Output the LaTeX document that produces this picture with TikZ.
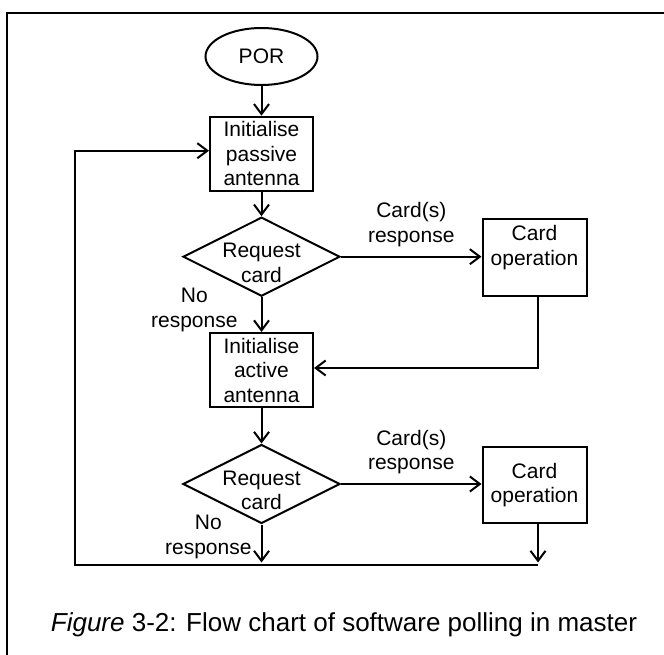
\documentclass[tikz,border=0pt]{standalone}
\usepackage{fontspec}
\setmainfont{Liberation Sans}
\usetikzlibrary{shapes.geometric,arrows.meta}

\begin{document}
\begin{tikzpicture}[x=1pt,y=-1pt,
  every node/.style={font=\fontsize{21}{24.5}\selectfont, align=center},
  arr/.style={line width=2pt, -{Straight Barb[length=10pt,width=15pt]}},
  terminal/.style={draw, ellipse, line width=2pt, minimum width=112pt, minimum height=57pt, inner sep=0pt},
  process/.style={draw, rectangle, line width=2pt, minimum width=103pt, minimum height=74pt, inner sep=0pt},
  decision/.style={draw, diamond, aspect=2, line width=2pt, minimum width=157pt, minimum height=79pt,
    inner xsep=-13pt, inner ysep=0pt, text height=51.5pt},
  lbl/.style={inner sep=0pt}]

\useasboundingbox (0,0) rectangle (664,655);
% frame
\draw[line width=2pt] (7,670) -- (7,12.7) -- (680,12.7);

% main column
\node[terminal] (por) at (261.5,56.5) {POR};
\node[process] (passive) at (261.5,153.7) {Initialise\\passive\\antenna};
\node[decision] (req1) at (261.5,256.7) {Request\\card};
\node[process] (active) at (261.5,370) {Initialise\\active\\antenna};
\node[decision] (req2) at (261.5,484) {Request\\card};

% card side
\node[process, minimum width=104pt, minimum height=76pt, text depth=24pt] (card1) at (534.5,257.5) {Card\\operation};
\node[process, minimum width=104pt, minimum height=76pt] (card2) at (534.5,485) {Card\\operation};

\coordinate (retR) at (538,564.5);
\coordinate (retL) at (75,564.5);

\draw[arr] (por) -- (passive);
\draw[arr] (passive) -- (req1);
\draw[arr] (req1.east) -- node[lbl, above=9pt]{Card(s)\\response} (req1.east -| card1.west);
\draw[arr] (req1) -- node[lbl, pos=0, anchor=north east, xshift=-23pt, yshift=10pt]{No\\response} (active);
\draw[arr] ([xshift=3.5pt]card1.south) |- ([yshift=2pt]active.east);
\draw[arr] (active) -- (req2);
\draw[arr] (req2.east) -- node[lbl, above=9pt]{Card(s)\\response} (req2.east -| card2.west);
\draw[arr, shorten >=2pt] (req2) -- node[lbl, pos=0, anchor=north east, xshift=-9pt, yshift=10pt]{No\\response} (req2.south |- retL);
\draw[arr, shorten >=2pt] ([xshift=3.5pt]card2.south) -- (retR);
\draw[arr] (retR) -- (retL) |- ([yshift=3pt]passive.west);

\node[font=\fontsize{26}{30}\selectfont] (caption) at (344,625) {\textit{Figure} 3-2: Flow chart of software polling in master};
\end{tikzpicture}
\end{document}
